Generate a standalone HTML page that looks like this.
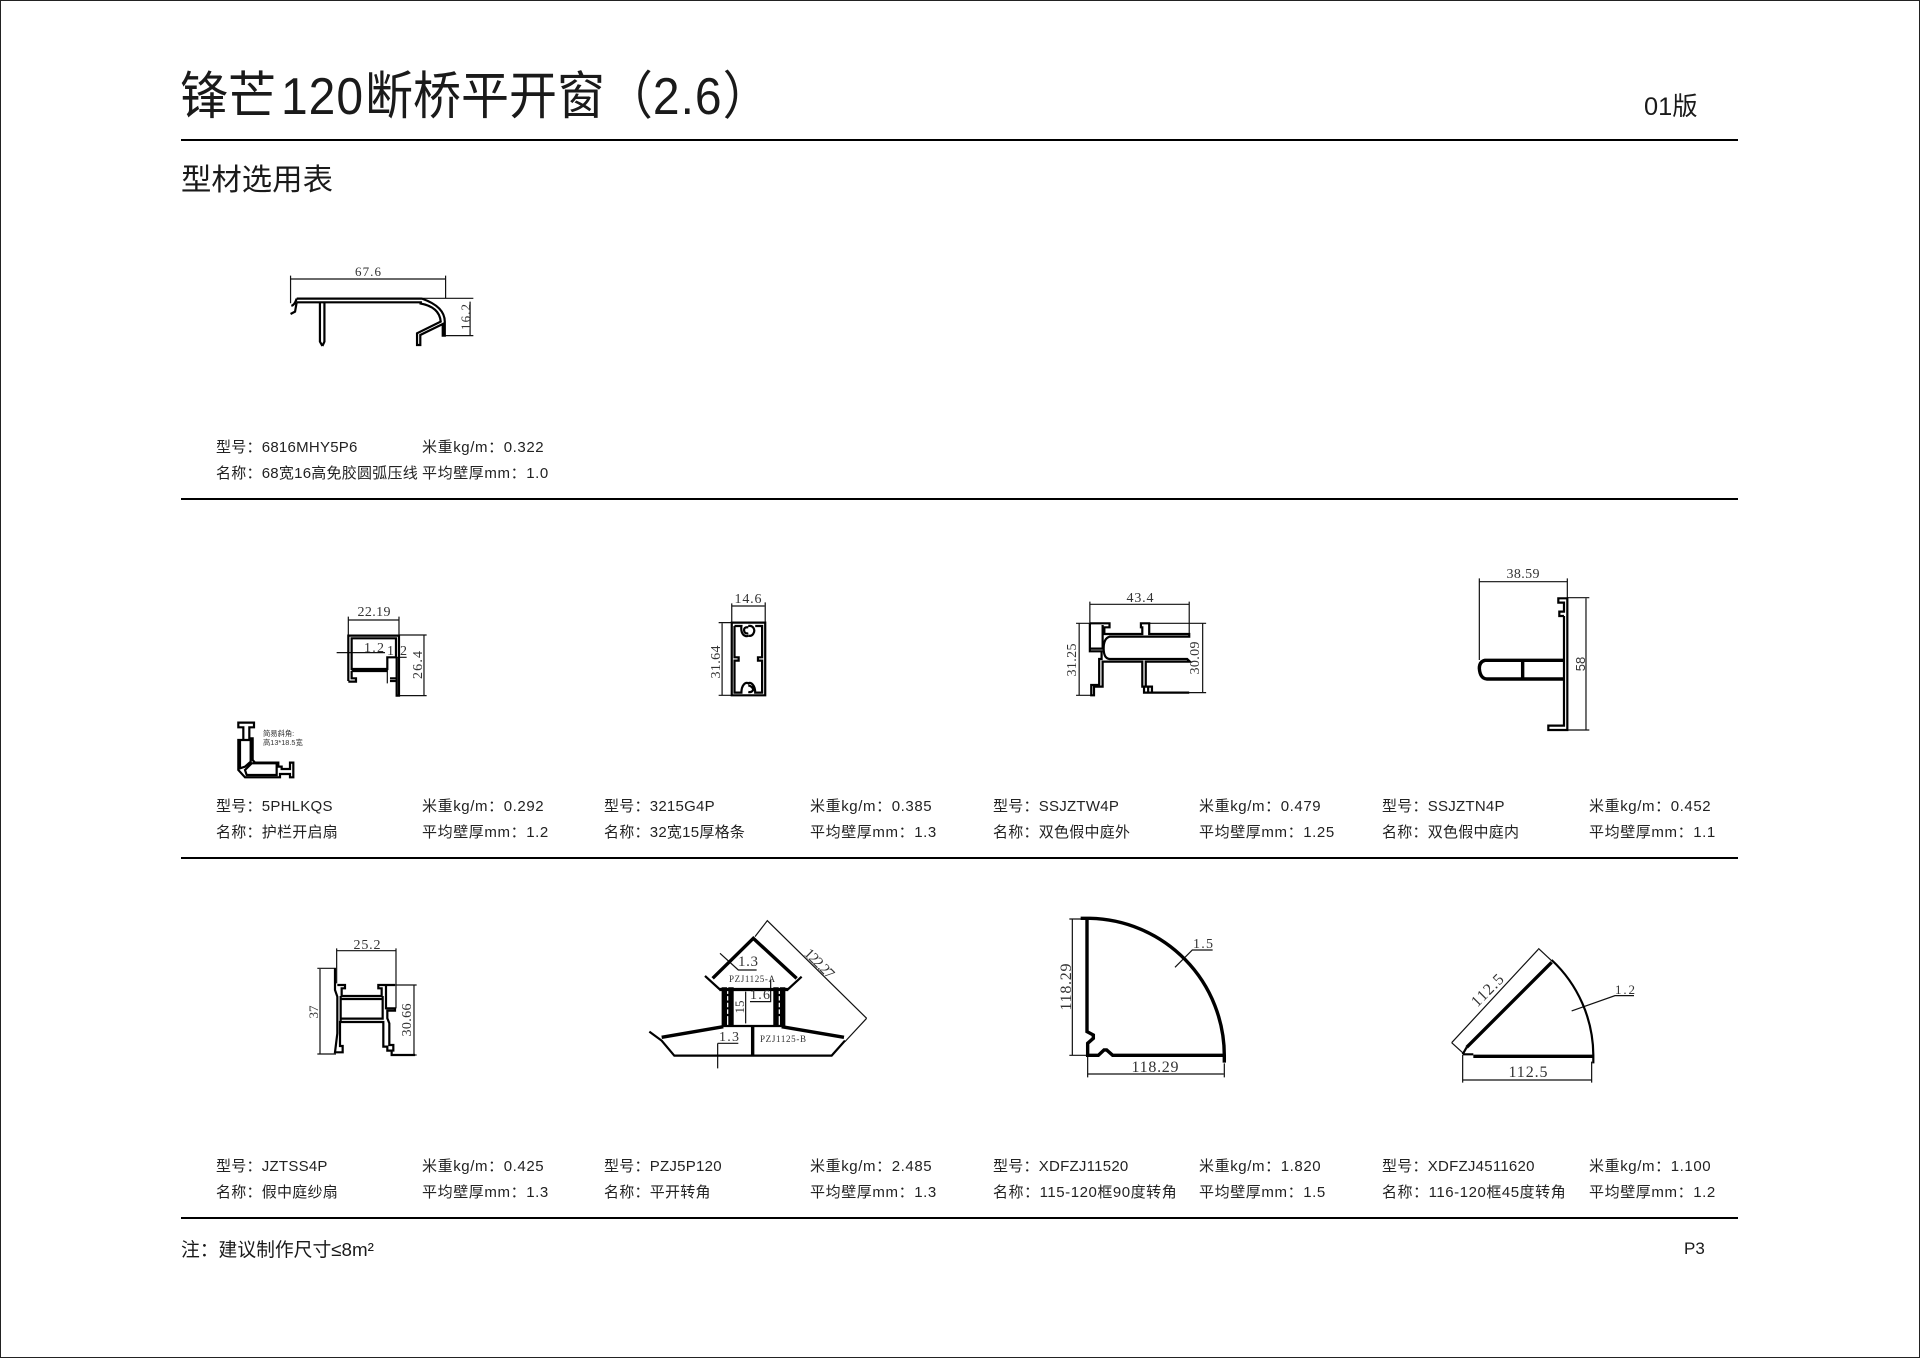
<!DOCTYPE html>
<html lang="zh">
<head>
<meta charset="utf-8">
<title>锋芒120断桥平开窗</title>
<style>
html,body{margin:0;padding:0;background:#fff;overflow:hidden}
svg{display:block}
.t{font-family:"Liberation Sans","Noto Sans CJK SC",sans-serif;fill:#1a1a1a}
.i{font-family:"Liberation Sans","Noto Sans CJK SC",sans-serif;font-size:15px;fill:#222;letter-spacing:.25px}
.r{letter-spacing:.6px}
.d{font-family:"Liberation Serif","Noto Serif CJK SC",serif;fill:#333;text-anchor:middle}
path{fill:none;vector-effect:non-scaling-stroke;stroke-linejoin:miter}
.a{stroke:#000;stroke-width:2.2}
.b{stroke:#000;stroke-width:3.4}
.c{stroke:#111;stroke-width:1.2}
</style>
</head>
<body>
<svg width="1920" height="1358" viewBox="0 0 1920 1358" xmlns="http://www.w3.org/2000/svg">
<rect x="0.5" y="0.5" width="1919" height="1357" fill="#fff" stroke="#222" stroke-width="1"/>

<!-- header -->
<text class="t" font-size="48" transform="translate(180,114) scale(1,1.08)">锋芒<tspan dx="5" letter-spacing="1">120</tspan><tspan dx="1">断桥平开窗（</tspan><tspan letter-spacing="1">2.6</tspan>）</text>
<text class="t" x="181" y="190" font-size="30.4">型材选用表</text>
<text class="t" x="1644" y="115" font-size="25.4">01版</text>
<rect x="181" y="139" width="1557" height="2" fill="#000"/>
<rect x="181" y="498" width="1557" height="2" fill="#000"/>
<rect x="181" y="857" width="1557" height="2" fill="#000"/>
<rect x="181" y="1217" width="1557" height="2" fill="#000"/>

<!-- row 1 info -->
<text class="i" x="216" y="452">型号：6816MHY5P6</text>
<text class="i r" x="422" y="452">米重kg/m：0.322</text>
<text class="i" x="216" y="478" textLength="202">名称：68宽16高免胶圆弧压线</text>
<text class="i r" x="422" y="478">平均壁厚mm：1.0</text>

<!-- row 2 info -->
<text class="i" x="216" y="811">型号：5PHLKQS</text>
<text class="i r" x="422" y="811">米重kg/m：0.292</text>
<text class="i" x="216" y="837">名称：护栏开启扇</text>
<text class="i r" x="422" y="837">平均壁厚mm：1.2</text>
<text class="i" x="604" y="811">型号：3215G4P</text>
<text class="i r" x="810" y="811">米重kg/m：0.385</text>
<text class="i" x="604" y="837">名称：32宽15厚格条</text>
<text class="i r" x="810" y="837">平均壁厚mm：1.3</text>
<text class="i" x="993" y="811">型号：SSJZTW4P</text>
<text class="i r" x="1199" y="811">米重kg/m：0.479</text>
<text class="i" x="993" y="837">名称：双色假中庭外</text>
<text class="i r" x="1199" y="837">平均壁厚mm：1.25</text>
<text class="i" x="1382" y="811">型号：SSJZTN4P</text>
<text class="i r" x="1589" y="811">米重kg/m：0.452</text>
<text class="i" x="1382" y="837">名称：双色假中庭内</text>
<text class="i r" x="1589" y="837">平均壁厚mm：1.1</text>

<!-- row 3 info -->
<text class="i" x="216" y="1171">型号：JZTSS4P</text>
<text class="i r" x="422" y="1171">米重kg/m：0.425</text>
<text class="i" x="216" y="1197">名称：假中庭纱扇</text>
<text class="i r" x="422" y="1197">平均壁厚mm：1.3</text>
<text class="i" x="604" y="1171">型号：PZJ5P120</text>
<text class="i r" x="810" y="1171">米重kg/m：2.485</text>
<text class="i" x="604" y="1197">名称：平开转角</text>
<text class="i r" x="810" y="1197">平均壁厚mm：1.3</text>
<text class="i" x="993" y="1171">型号：XDFZJ11520</text>
<text class="i r" x="1199" y="1171">米重kg/m：1.820</text>
<text class="i" x="993" y="1197" textLength="184">名称：115-120框90度转角</text>
<text class="i r" x="1199" y="1197">平均壁厚mm：1.5</text>
<text class="i" x="1382" y="1171">型号：XDFZJ4511620</text>
<text class="i r" x="1589" y="1171">米重kg/m：1.100</text>
<text class="i" x="1382" y="1197" textLength="184">名称：116-120框45度转角</text>
<text class="i r" x="1589" y="1197">平均壁厚mm：1.2</text>

<!-- footer -->
<text class="t" x="181" y="1256" font-size="18.8">注：建议制作尺寸≤8m²</text>
<text class="t" x="1684" y="1254" font-size="17">P3</text>

<!-- profile 1: 6816MHY5P6 -->
<g transform="translate(160,40) scale(0.408,0.3333)">
<path class="c" d="M320,707V790M700,707V775M320,717H700M640,775H768M693,887H768M760,785V887"/>
<path class="a" d="M335,776H642M335,787H642M335,776Q330,795 322,798M335,787L331,815L320,822M392,787V905L398,918M403,787V905L398,918M642,776Q698,800 698,845V887H693V852L638,885V915L630,915V880L688,845Q685,800 636,790"/>
</g>
<text class="d" x="368" y="276" font-size="13" textLength="26">67.6</text>
<text class="d" font-size="13" textLength="26" transform="translate(470,317) rotate(-90)">16.2</text>

<!-- profile 2: 5PHLKQS -->
<g transform="translate(200,570) scale(0.3333)">
<path class="c" d="M445,140V197M597,140V197M445,150H597M597,195H680M597,377H680M672,197V375M410,248H555M562,262H620M562,262V340"/>
<path class="a" d="M445,333V197H597V377H590V262M455,297V205H588V262H562V297ZM455,303H562M455,303V325H468V335H445M570,325H590M570,333H590"/>
<path class="a" d="M115,458H162V472H148V505H158V570L165,578H235V590H245V597H270V578H280V622H270V612H240V622H135L115,600V510H130V472H115ZM120,515V595L135,590L152,575V510H120ZM135,600L155,580H230V615H140Z"/>
</g>
<text class="d" x="374" y="616" font-size="14" textLength="33">22.19</text>
<text class="d" x="374" y="652" font-size="14" textLength="20">1.2</text>
<text class="d" x="397" y="655" font-size="14" textLength="20">1 2</text>
<text class="d" font-size="14" textLength="28" transform="translate(422,665) rotate(-90)">26.4</text>
<text x="263" y="736" font-size="7.3" fill="#333" font-family="Liberation Sans,Noto Sans CJK SC,sans-serif">简易斜角:</text>
<text x="263" y="745" font-size="7.3" fill="#333" font-family="Liberation Sans,Noto Sans CJK SC,sans-serif">高13*18.5宽</text>

<!-- profile 3: 3215G4P -->
<g transform="translate(680,570) scale(0.345,0.3333)">
<path class="c" d="M150,100V158M247,97V158M150,108H245M112,158H150M112,376H150M122,160V376"/>
<path class="a" d="M150,158H247V376H150ZM158,168H178C175,195 190,202 198,197M198,172Q184,170 186,183Q188,192 198,190M198,168C212,165 220,180 212,192C208,198 202,198 198,197M218,168H238V262H226V272H238V368H218C218,345 205,335 198,340C190,335 178,345 178,368H158V272H170V262H158V168M198,346Q212,350 212,360Q208,368 198,366"/>
</g>
<text class="d" x="748" y="603" font-size="14" textLength="27">14.6</text>
<text class="d" font-size="14" textLength="33" transform="translate(720,662) rotate(-90)">31.64</text>

<!-- profile 4: SSJZTW4P -->
<g transform="translate(680,570) scale(0.345,0.3333)">
<path class="c" d="M1188,95V160M1476,95V195M1188,103H1476M1148,160H1188M1360,160H1525M1148,376H1200M1360,368H1525M1157,160V376M1515,160V368"/>
<path class="a" d="M1188,160V244H1222V267H1215V345H1192V376H1200V350H1225V275H1340V350H1345V368H1476M1188,160H1245V172H1230V192H1340V172H1336V160H1360V192H1476V200H1245Q1228,205 1228,235Q1228,265 1245,267H1470L1478,275H1350V350H1368V368H1357V350H1345M1225,165V236H1188"/>
</g>
<text class="d" x="1140" y="602" font-size="14" textLength="27">43.4</text>
<text class="d" font-size="14" textLength="33" transform="translate(1076,660) rotate(-90)">31.25</text>
<text class="d" font-size="14" textLength="33" transform="translate(1199,658) rotate(-90)">30.09</text>

<!-- profile 5: SSJZTN4P -->
<g transform="translate(1440,560) scale(0.3333)">
<path class="c" d="M118,55V300M382,55V115M118,65H382M380,113H448M380,510H448M438,115V510"/>
<path class="a" d="M372,168V497H325V510H382V115H355V128H372V155H358V168H372"/>
<path class="b" d="M372,301H135Q118,305 118,325Q120,355 140,357H372M248,302V355"/>
</g>
<text class="d" x="1523" y="578" font-size="14" textLength="33">38.59</text>
<text font-size="13" fill="#333" font-family="Liberation Sans,sans-serif" text-anchor="middle" transform="translate(1585,664) rotate(-90)">58</text>

<!-- profile 6: JZTSS4P -->
<g transform="translate(300,920) scale(0.3333)">
<path class="c" d="M110,85V190M288,85V265M110,92H288M52,145H108M52,402H108M60,147V400M285,195H350M275,405H350M342,197V403"/>
<path class="a" d="M105,145V210L112,230V340L105,397H128V378H120V306H250V380H262V392H275V405H345M112,195H135V205H125V228H245V205H235V195H285M258,195V265H285V272H262V295L268,310V375H280V395M122,237H248V296H122V237M122,228V306M248,228V296"/>
</g>
<text class="d" x="367" y="949" font-size="14" textLength="27">25.2</text>
<text font-size="13" fill="#333" font-family="Liberation Serif,serif" text-anchor="middle" transform="translate(318,1012) rotate(-90)">37</text>
<text class="d" font-size="14" textLength="33" transform="translate(411,1020) rotate(-90)">30.66</text>

<!-- profile 7: PZJ5P120 -->
<g transform="translate(640,910) scale(0.3333)">
<path class="c" d="M345,80L382,32L680,325M680,325L615,395M240,130L295,180H350M392,210V275H330M317,245V340M233,400H295M233,400V475"/>
<path class="b" d="M218,205L340,85L470,205M65,382L250,350M425,350L612,382M338,350V437"/>
<path class="a" d="M195,198L238,237H445L485,200M238,240H445M250,348H425M28,365L65,392L103,437H575L615,392"/>
<path class="b" d="M250,237H256V345H250ZM270,237H276V345H270ZM405,237H411V345H405ZM425,237H431V345H425Z"/>
<path class="a" d="M256,255H270M256,275H270M256,295H270M256,315H270M411,255H425M411,275H425M411,295H425M411,315H425"/>
</g>
<text class="d" x="748" y="966" font-size="15" textLength="20">1.3</text>
<text class="d" x="752" y="982" font-size="9" textLength="46">PZJ1125-A</text>
<text class="d" x="760" y="999" font-size="14" textLength="20">1.6</text>
<text class="d" font-size="13" transform="translate(744,1007) rotate(-90)">15</text>
<text class="d" x="729" y="1041" font-size="14" textLength="20">1.3</text>
<text class="d" x="783" y="1042" font-size="9" textLength="46">PZJ1125-B</text>
<text class="d" font-size="15" textLength="36" transform="translate(816,967) rotate(45)">122.27</text>

<!-- profile 8: XDFZJ11520 -->
<g transform="translate(1040,900) scale(0.3333)">
<path class="c" d="M88,57H140M88,466H143M97,57V466M143,466V532M553,490V532M143,522H551M405,202L457,150H518"/>
<path class="b" d="M122,55H150A412,412 0 0 1 553,466V488"/>
<path class="b" d="M141,56V395L160,405V415L143,430V466H175L192,450H200L218,466H553"/>
</g>
<text class="d" x="1155" y="1072" font-size="16" textLength="47">118.29</text>
<text class="d" x="1203" y="948" font-size="14" textLength="20">1.5</text>
<text class="d" font-size="16" textLength="47" transform="translate(1071,987) rotate(-90)">118.29</text>

<!-- profile 9: XDFZJ4511620 -->
<g transform="translate(1440,930) scale(0.3333)">
<path class="c" d="M35,338L295,58M295,55L340,97M35,338L70,370M68,375V458M455,395V458M68,450H455M395,243L525,197H582"/>
<path class="b" d="M80,352L335,97M100,379H460"/>
<path class="a" d="M68,373H100M335,90A393,393 0 0 1 460,375V400M68,373L80,352"/>
</g>
<text class="d" x="1528" y="1077" font-size="16" textLength="39">112.5</text>
<text class="d" x="1625" y="994" font-size="13" textLength="20">1.2</text>
<text class="d" font-size="16" textLength="39" transform="translate(1491,994) rotate(-45)">112.5</text>
</svg>
</body>
</html>
